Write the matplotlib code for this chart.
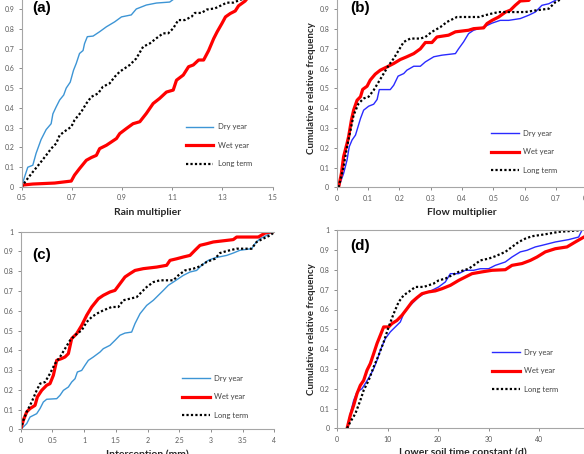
import numpy as np
import matplotlib
matplotlib.use('Agg')
import matplotlib.pyplot as plt
from matplotlib.ticker import FuncFormatter

plt.rcParams['font.family'] = ['Lato', 'DejaVu Sans']

labels = ['Dry year', 'Wet year', 'Long term']

# (a) rain multiplier
rain_dry_x = [0.5, 0.512, 0.525, 0.545, 0.558, 0.578, 0.598, 0.618, 0.625, 0.638, 0.652, 0.668, 0.678, 0.694,
              0.707, 0.718, 0.731, 0.745, 0.751, 0.762, 0.785, 0.811, 0.838, 0.871, 0.898, 0.937, 0.957, 0.997,
              1.037, 1.09, 1.117, 1.2, 1.3]
rain_dry_y = [0, 0.05, 0.10, 0.11, 0.17, 0.24, 0.29, 0.32, 0.37, 0.405, 0.44, 0.465, 0.50, 0.53,
              0.59, 0.625, 0.675, 0.69, 0.725, 0.76, 0.763, 0.785, 0.81, 0.835, 0.86, 0.87, 0.90, 0.92,
              0.93, 0.935, 0.96, 0.98, 1.0]
rain_wet_x = [0.5, 0.505, 0.545, 0.632, 0.698, 0.711, 0.731, 0.758, 0.778, 0.798, 0.811, 0.838, 0.858, 0.878,
              0.891, 0.918, 0.944, 0.971, 0.997, 1.024, 1.05, 1.077, 1.104, 1.117, 1.144, 1.165, 1.184, 1.205,
              1.225, 1.245, 1.265, 1.279, 1.298, 1.312, 1.331, 1.351, 1.364, 1.39, 1.403, 1.45]
rain_wet_y = [0, 0.01, 0.015, 0.02, 0.03, 0.06, 0.093, 0.135, 0.149, 0.16, 0.194, 0.211, 0.228, 0.245,
              0.27, 0.296, 0.32, 0.33, 0.372, 0.422, 0.448, 0.48, 0.49, 0.54, 0.566, 0.608, 0.617, 0.642,
              0.642, 0.69, 0.75, 0.785, 0.827, 0.86, 0.877, 0.89, 0.916, 0.94, 0.96, 1.0]
rain_long_x = [0.5, 0.519, 0.545, 0.572, 0.598, 0.618, 0.638, 0.652, 0.678, 0.698, 0.711, 0.738, 0.758, 0.778,
               0.805, 0.824, 0.851, 0.871, 0.891, 0.911, 0.931, 0.957, 0.984, 1.011, 1.037, 1.064, 1.084,
               1.104, 1.124, 1.15, 1.177, 1.19, 1.217, 1.237, 1.27, 1.298, 1.317, 1.343, 1.37, 1.403, 1.45]
rain_long_y = [0, 0.034, 0.076, 0.118, 0.16, 0.194, 0.22, 0.262, 0.287, 0.304, 0.338, 0.38, 0.422, 0.456,
               0.473, 0.507, 0.524, 0.557, 0.583, 0.6, 0.617, 0.65, 0.709, 0.726, 0.752, 0.777, 0.777,
               0.802, 0.844, 0.844, 0.861, 0.88, 0.88, 0.897, 0.903, 0.92, 0.932, 0.932, 0.946, 0.96, 1.0]

# (b) flow multiplier
flow_dry_x = [0.006, 0.022, 0.033, 0.04, 0.049, 0.06, 0.068, 0.076, 0.086, 0.102, 0.118, 0.129, 0.136, 0.171,
              0.182, 0.196, 0.214, 0.224, 0.246, 0.267, 0.283, 0.31, 0.336, 0.379, 0.389, 0.405, 0.421,
              0.437, 0.469, 0.496, 0.522, 0.549, 0.586, 0.613, 0.634, 0.655, 0.677, 0.698, 0.72, 0.75]
flow_dry_y = [0, 0.07, 0.138, 0.205, 0.239, 0.264, 0.306, 0.348, 0.39, 0.41, 0.42, 0.444, 0.494, 0.494,
              0.516, 0.562, 0.575, 0.592, 0.612, 0.612, 0.634, 0.66, 0.668, 0.676, 0.70, 0.735, 0.777,
              0.794, 0.81, 0.83, 0.844, 0.844, 0.853, 0.87, 0.886, 0.92, 0.928, 0.945, 0.97, 1.0]
flow_wet_x = [0.006, 0.015, 0.022, 0.033, 0.038, 0.047, 0.054, 0.065, 0.076, 0.083, 0.097, 0.107, 0.123,
              0.139, 0.161, 0.182, 0.203, 0.224, 0.246, 0.267, 0.283, 0.304, 0.32, 0.357, 0.379, 0.421,
              0.437, 0.469, 0.48, 0.496, 0.517, 0.539, 0.554, 0.57, 0.586, 0.613, 0.63, 0.66]
flow_wet_y = [0, 0.07, 0.155, 0.222, 0.256, 0.34, 0.39, 0.44, 0.458, 0.495, 0.511, 0.542, 0.572,
              0.592, 0.609, 0.626, 0.646, 0.66, 0.676, 0.70, 0.732, 0.732, 0.76, 0.769, 0.786, 0.794,
              0.802, 0.806, 0.828, 0.844, 0.861, 0.886, 0.895, 0.92, 0.942, 0.945, 0.98, 1.0]
flow_long_x = [0.006, 0.022, 0.033, 0.044, 0.054, 0.07, 0.086, 0.102, 0.118, 0.134, 0.15, 0.166, 0.182,
               0.198, 0.214, 0.235, 0.267, 0.283, 0.304, 0.331, 0.352, 0.384, 0.454, 0.486, 0.517, 0.549,
               0.602, 0.634, 0.677, 0.698, 0.74, 0.78]
flow_long_y = [0, 0.104, 0.205, 0.289, 0.365, 0.424, 0.449, 0.458, 0.491, 0.533, 0.575, 0.617, 0.651,
               0.693, 0.735, 0.752, 0.752, 0.76, 0.786, 0.81, 0.836, 0.861, 0.861, 0.875, 0.886, 0.886,
               0.886, 0.894, 0.903, 0.936, 0.97, 1.0]

# (c) interception (mm)
int_dry_x = [0, 0.042, 0.095, 0.147, 0.252, 0.305, 0.357, 0.41, 0.568, 0.62, 0.673, 0.752, 0.804, 0.857,
             0.894, 0.962, 1.014, 1.067, 1.146, 1.251, 1.303, 1.408, 1.487, 1.566, 1.645, 1.75, 1.803,
             1.882, 1.987, 2.092, 2.171, 2.25, 2.329, 2.407, 2.486, 2.565, 2.67, 2.775, 2.854, 2.959,
             3.064, 3.248, 3.353, 3.458, 3.642, 3.695, 3.774, 3.879, 3.958, 4.0]
int_dry_y = [0, 0.012, 0.029, 0.062, 0.079, 0.105, 0.138, 0.152, 0.155, 0.172, 0.197, 0.214, 0.239, 0.256,
             0.29, 0.298, 0.324, 0.349, 0.366, 0.391, 0.408, 0.425, 0.45, 0.476, 0.487, 0.492, 0.535,
             0.585, 0.627, 0.653, 0.678, 0.703, 0.729, 0.745, 0.762, 0.779, 0.796, 0.804, 0.83, 0.855,
             0.868, 0.88, 0.892, 0.906, 0.914, 0.939, 0.965, 0.981, 0.998, 1.0]
int_wet_x = [0, 0.042, 0.095, 0.147, 0.226, 0.263, 0.331, 0.41, 0.462, 0.515, 0.568, 0.646, 0.699, 0.752,
             0.804, 0.883, 0.962, 1.041, 1.12, 1.225, 1.303, 1.408, 1.487, 1.566, 1.645, 1.724, 1.803,
             1.934, 2.145, 2.302, 2.355, 2.46, 2.565, 2.67, 2.749, 2.828, 2.933, 3.038, 3.17, 3.353,
             3.406, 3.748, 3.853, 3.932, 4.0]
int_wet_y = [0, 0.046, 0.088, 0.105, 0.121, 0.164, 0.197, 0.223, 0.231, 0.273, 0.349, 0.358, 0.366, 0.383,
             0.459, 0.484, 0.526, 0.577, 0.619, 0.661, 0.678, 0.695, 0.703, 0.737, 0.771, 0.788, 0.804,
             0.813, 0.821, 0.83, 0.855, 0.863, 0.872, 0.88, 0.906, 0.931, 0.939, 0.948, 0.953, 0.96,
             0.973, 0.973, 0.993, 0.998, 1.0]
int_long_x = [0, 0.042, 0.095, 0.173, 0.252, 0.305, 0.384, 0.462, 0.541, 0.62, 0.699, 0.778, 0.857, 0.962,
              1.041, 1.12, 1.198, 1.303, 1.435, 1.54, 1.619, 1.724, 1.829, 1.908, 1.987, 2.092, 2.197,
              2.407, 2.486, 2.591, 2.723, 2.828, 2.933, 3.064, 3.143, 3.248, 3.406, 3.642, 3.721, 3.826,
              3.932, 4.0]
int_long_y = [0, 0.046, 0.088, 0.138, 0.197, 0.231, 0.239, 0.282, 0.332, 0.366, 0.408, 0.45, 0.476, 0.501,
              0.543, 0.568, 0.585, 0.602, 0.619, 0.619, 0.653, 0.661, 0.669, 0.695, 0.72, 0.745, 0.754,
              0.754, 0.779, 0.804, 0.813, 0.825, 0.847, 0.863, 0.892, 0.902, 0.914, 0.914, 0.948, 0.965,
              0.981, 0.998]

# (d) lower soil time constant (d)
soil_dry_x = [2.0, 2.64, 3.3, 3.96, 4.95, 5.6, 6.6, 7.26, 7.92, 8.58, 9.57, 10.56, 11.55, 12.54, 13.2, 14.19,
              15.18, 16.17, 17.49, 18.81, 20.13, 21.45, 22.44, 24.09, 25.41, 27.06, 28.38, 30.03, 31.35,
              33.33, 34.65, 36.3, 37.62, 39.27, 40.59, 43.23, 45.87, 47.85, 48.51]
soil_dry_y = [0, 0.074, 0.141, 0.183, 0.2, 0.226, 0.268, 0.301, 0.343, 0.394, 0.453, 0.487, 0.512, 0.537,
              0.579, 0.613, 0.638, 0.663, 0.684, 0.697, 0.714, 0.739, 0.781, 0.781, 0.798, 0.798, 0.806,
              0.806, 0.823, 0.84, 0.865, 0.891, 0.899, 0.916, 0.924, 0.941, 0.953, 0.966, 1.0]
soil_wet_x = [2.0, 2.64, 3.3, 3.96, 4.62, 5.28, 5.94, 6.6, 7.26, 7.92, 8.58, 9.24, 10.23, 10.89, 11.88, 12.87,
              13.86, 14.85, 15.84, 16.83, 18.15, 19.47, 20.79, 22.44, 24.09, 25.41, 26.73, 28.71, 30.69,
              33.33, 34.65, 36.63, 38.28, 39.6, 41.25, 43.23, 45.54, 47.19, 48.9, 50.0]
soil_wet_y = [0, 0.066, 0.116, 0.175, 0.217, 0.242, 0.293, 0.327, 0.377, 0.428, 0.47, 0.512, 0.512, 0.529,
              0.545, 0.571, 0.604, 0.638, 0.66, 0.68, 0.689, 0.694, 0.705, 0.722, 0.747, 0.764, 0.781,
              0.79, 0.798, 0.801, 0.823, 0.832, 0.848, 0.865, 0.891, 0.907, 0.916, 0.941, 0.966, 0.98]
soil_long_x = [2.0, 2.64, 3.63, 4.62, 5.28, 6.27, 7.26, 8.25, 9.24, 10.23, 11.22, 12.21, 13.2, 14.19, 15.51,
               17.16, 19.14, 20.13, 21.45, 22.77, 24.09, 26.07, 27.06, 28.38, 30.03, 31.35, 33.33, 34.65,
               35.97, 37.29, 38.61, 41.25, 43.89, 46.53, 48.18]
soil_long_y = [0, 0.032, 0.074, 0.141, 0.192, 0.242, 0.31, 0.369, 0.436, 0.512, 0.579, 0.638, 0.672, 0.689,
               0.714, 0.714, 0.731, 0.747, 0.756, 0.773, 0.79, 0.806, 0.823, 0.848, 0.857, 0.869, 0.891,
               0.916, 0.941, 0.958, 0.97, 0.98, 0.992, 0.997, 1.0]

W, H = 584, 454
fig = plt.figure(figsize=(W / 100, H / 100), dpi=100)


def px_axes(left, right, y0, y1):
    # left/right/y0/y1 in pixel coords (y from top): x-axis span and y=0 / y=1 rows
    return fig.add_axes([left / W, (H - y0) / H, (right - left) / W, (y0 - y1) / H])


panels = [
    dict(rect=(21.5, 272.7, 187.0, -10.8), xlim=(0.5, 1.5), xticks=np.arange(0.5, 1.51, 0.2), ytop=0.9,
         xlabel='Rain multiplier', ylabel=False, tag='(a)', tagpos=(32, 8), blue='#3d95d5',
         series=[(rain_dry_x, rain_dry_y), (rain_wet_x, rain_wet_y), (rain_long_x, rain_long_y)],
         leg=(185.7, 123.5)),
    dict(rect=(336.7, 587.3, 187.3, -10.5), xlim=(0, 0.8), xticks=np.arange(0, 0.81, 0.1), ytop=0.9,
         xlabel='Flow multiplier', ylabel=True, tag='(b)', tagpos=(350, 8), blue='#2a2aff',
         series=[(flow_dry_x, flow_dry_y), (flow_wet_x, flow_wet_y), (flow_long_x, flow_long_y)],
         leg=(491.3, 130)),
    dict(rect=(20.7, 274.3, 429.3, 231.7), xlim=(0, 4), xticks=np.arange(0, 4.01, 0.5), ytop=1.0,
         xlabel='Interception (mm)', ylabel=False, tag='(c)', tagpos=(32, 255), blue='#3d95d5',
         series=[(int_dry_x, int_dry_y), (int_wet_x, int_wet_y), (int_long_x, int_long_y)],
         leg=(182.3, 375)),
    dict(rect=(337.0, 589.5, 428.3, 230.3), xlim=(0, 50), xticks=np.arange(0, 51, 10), ytop=1.0,
         xlabel='Lower soil time constant (d)', ylabel=True, tag='(d)', tagpos=(350, 246), blue='#2a2aff',
         series=[(soil_dry_x, soil_dry_y), (soil_wet_x, soil_wet_y), (soil_long_x, soil_long_y)],
         leg=(492, 349)),
]

fmt = FuncFormatter(lambda v, p: '%g' % round(v, 3))

for p in panels:
    ax = px_axes(*p['rect'])
    (dx, dy), (wx, wy), (lx, ly) = p['series']
    ax.plot(dx, dy, color=p['blue'], lw=1.0, label=labels[0])
    ax.plot(wx, wy, color='#ff0000', lw=2.3, label=labels[1])
    ax.plot(lx, ly, color='black', lw=1.6, linestyle=(0, (1, 1)), label=labels[2])

    ax.set_xlim(*p['xlim'])
    ax.set_ylim(0, 1)
    ax.set_xticks(p['xticks'])
    ax.set_yticks(np.arange(0, p['ytop'] + 0.01, 0.1))
    ax.xaxis.set_major_formatter(fmt)
    ax.yaxis.set_major_formatter(fmt)
    ax.tick_params(direction='out', length=2.5, width=0.7, color='#8c8c8c',
                   labelsize=5, labelcolor='#595959', pad=2.8)
    for s in ['left', 'bottom', 'top']:
        ax.spines[s].set_color('#a6a6a6')
        ax.spines[s].set_linewidth(0.8)
    ax.spines['right'].set_visible(False)

    ax.set_xlabel(p['xlabel'], fontsize=7.5, fontweight='bold', color='#262626', labelpad=4.5)
    if p['ylabel']:
        ax.set_ylabel('Cumulative relative frequency', fontsize=7, fontweight='bold', color='#262626')
        ax.yaxis.set_label_coords(-21.0 / (p['rect'][1] - p['rect'][0]), 0.5)

    ax.legend(loc='upper left', bbox_to_anchor=(p['leg'][0] / W, 1 - p['leg'][1] / H),
              bbox_transform=fig.transFigure, frameon=False, fontsize=5.5,
              handlelength=3.6, handletextpad=0.6, labelspacing=1.5,
              borderpad=0, borderaxespad=0, labelcolor='#404040')

    fig.text(p['tagpos'][0] / W, 1 - p['tagpos'][1] / H, p['tag'], fontsize=11, fontweight='bold',
             family='Liberation Sans', ha='left', va='center')

fig.savefig('out.png', dpi=100)
